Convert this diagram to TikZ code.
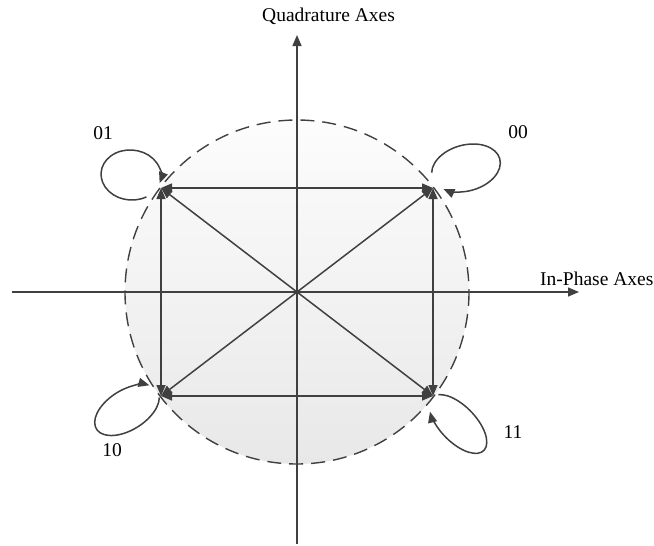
\documentclass[tikz,border=0pt]{standalone}
\usepackage{fontspec}
\setmainfont{Liberation Serif}
\usetikzlibrary{arrows.meta}
\definecolor{ln}{HTML}{404040}
\begin{document}
\begin{tikzpicture}[x=1pt,y=-1pt,
  line/.style={draw=ln, line width=1.5pt},
  tip/.style={-{Triangle[length=11pt,width=9pt]}},
  both/.style={{Triangle[length=11pt,width=9pt]}-{Triangle[length=11pt,width=9pt]}},
  lbl/.style={font=\fontsize{19.5}{22}\selectfont, inner sep=0pt, text=black}]
\useasboundingbox (0,0) rectangle (654,546);
\coordinate (O) at (297,292);
\coordinate (TL) at (161,188);
\coordinate (TR) at (433,188);
\coordinate (BL) at (161,396);
\coordinate (BR) at (433,396);
\coordinate (xl) at (12,292);
\coordinate (xr) at (579,292);
\coordinate (yt) at (297,35);
\coordinate (yb) at (297,544);
% circle
\path[top color=black!1, bottom color=black!9] (O) circle[radius=172];
\draw[draw=ln, line width=1.4pt, dash pattern=on 14pt off 8pt] (O) circle[radius=172];
% axes
\draw[line,tip] (xl) -- (xr);
\draw[line,tip] (yb) -- (yt);
% transitions
\draw[line,both] (TL) -- (TR);
\draw[line,both] (BL) -- (BR);
\draw[line,both] (TL) -- (BL);
\draw[line,both] (TR) -- (BR);
\draw[line,both] (TL) -- (BR);
\draw[line,both] (BL) -- (TR);
% self loops
\begin{scope}[shift={(131,175)}, rotate=-5]
  \draw[line,tip] (55:30 and 25) arc[start angle=55, end angle=373, x radius=30, y radius=25];
\end{scope}
\begin{scope}[shift={(466,168)}, rotate=15]
  \draw[line,tip] (191:35 and 23) arc[start angle=191, end angle=501, x radius=35, y radius=23];
\end{scope}
\begin{scope}[shift={(127,410)}, rotate=32]
  \draw[line,tip] (19:36 and 20) arc[start angle=19, end angle=333, x radius=36, y radius=20];
\end{scope}
\begin{scope}[shift={(458,424)}, rotate=-46]
  \draw[line,tip] (200:37 and 18) arc[start angle=200, end angle=500, x radius=37, y radius=18];
\end{scope}
% labels
\node[lbl, anchor=west] (qa) at (262,16.5) {Quadrature Axes};
\node[lbl, anchor=base west] (ip) at (540,285) {In-Phase Axes};
\node[lbl] (l01) at (103,133) {01};
\node[lbl] (l00) at (518,132) {00};
\node[lbl] (l10) at (112,450) {10};
\node[lbl] (l11) at (513,432) {11};
\end{tikzpicture}
\end{document}
